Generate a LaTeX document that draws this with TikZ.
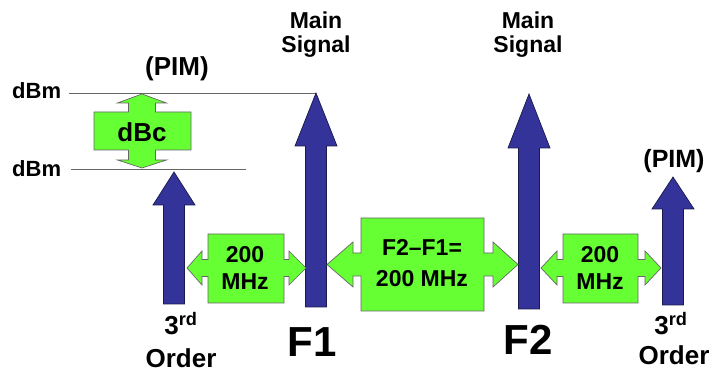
\documentclass[tikz,border=0pt]{standalone}
\usepackage{fontspec}
\setmainfont{Liberation Sans}
\definecolor{sigblue}{RGB}{51,51,153}
\definecolor{callgreen}{RGB}{102,255,51}
\tikzset{
  sig/.style={fill=sigblue, draw=sigblue!50!black, line width=0.7pt, line join=miter},
  call/.style={fill=callgreen, draw=black!60, line width=0.7pt, line join=miter},
  lvl/.style={draw=black!60, line width=0.9pt},
  lbl/.style={inner sep=0pt, anchor=base, font=\bfseries},
}
\newcommand\sigarrow[4]{%
  \draw[sig] (#1-10.5,#4) -- (#1-10.5,#3) -- (#1-21,#3) -- (#1,#2) -- (#1+21,#3)
    -- (#1+10.5,#3) -- (#1+10.5,#4) -- cycle;}
\begin{document}
\begin{tikzpicture}[x=1pt,y=-1pt]
\useasboundingbox (0,0) rectangle (713,374);
% level lines
\coordinate (ltopL) at (69,93);
\coordinate (f1tip) at (316,93);
\coordinate (llowL) at (71,169);
\coordinate (llowR) at (246,169);
\draw[lvl] (ltopL) -- (f1tip);
\draw[lvl] (llowL) -- (llowR);
% blue signal arrows
\sigarrow{174}{172}{205}{304}
\sigarrow{316}{93}{146}{307}
\sigarrow{529}{94}{148}{309}
\sigarrow{673}{177}{209}{305}
% dBc vertical callout
\draw[call] (94,112) -- (128.5,112) -- (128.5,103) -- (117.5,103) -- (142,94) -- (166.5,103)
  -- (155.5,103) -- (155.5,112) -- (191,112) -- (191,150) -- (155.5,150) -- (155.5,160)
  -- (166.5,160) -- (142,168) -- (117.5,160) -- (128.5,160) -- (128.5,150) -- (94,150) -- cycle;
% left 200 MHz callout
\draw[call] (208,234) -- (284,234) -- (284,259.5) -- (289,259.5) -- (289,251) -- (306,268)
  -- (289,285) -- (289,276.5) -- (284,276.5) -- (284,303) -- (208,303) -- (208,276.5)
  -- (202,276.5) -- (202,285) -- (187,268) -- (202,251) -- (202,259.5) -- (208,259.5) -- cycle;
% middle callout
\draw[call] (361,218) -- (484,218) -- (484,253) -- (493,253) -- (493,242) -- (518,264.5)
  -- (493,287) -- (493,276) -- (484,276) -- (484,311) -- (361,311) -- (361,276)
  -- (353,276) -- (353,287) -- (327,264.5) -- (353,242) -- (353,253) -- (361,253) -- cycle;
% right 200 MHz callout
\draw[call] (563,234) -- (638,234) -- (638,259.5) -- (645,259.5) -- (645,251) -- (661,268)
  -- (645,285) -- (645,276.5) -- (638,276.5) -- (638,303) -- (563,303) -- (563,276.5)
  -- (557,276.5) -- (557,285) -- (541,268) -- (557,251) -- (557,259.5) -- (563,259.5) -- cycle;
% texts
\node[lbl, anchor=base west, font=\bfseries\fontsize{22}{22}\selectfont] (dbmt) at (12,99) {dBm};
\node[lbl, anchor=base west, font=\bfseries\fontsize{22}{22}\selectfont] (dbml) at (12,177) {dBm};
\node[lbl, font=\bfseries\fontsize{26}{26}\selectfont] (piml) at (177,76) {(PIM)};
\node[lbl, font=\bfseries\fontsize{25}{25}\selectfont] (pimr) at (674,168) {(PIM)};
\node[lbl, font=\bfseries\fontsize{23}{23}\selectfont] (ms1a) at (316,29) {Main};
\node[lbl, font=\bfseries\fontsize{23}{23}\selectfont] (ms1b) at (316,53) {Signal};
\node[lbl, font=\bfseries\fontsize{23}{23}\selectfont] (ms2a) at (528,29) {Main};
\node[lbl, font=\bfseries\fontsize{23}{23}\selectfont] (ms2b) at (528,53) {Signal};
\node[lbl, font=\bfseries\fontsize{26}{26}\selectfont] (dbc) at (142,142) {dBc};
\node[lbl, font=\bfseries\fontsize{23}{23}\selectfont] (la) at (245,263) {200};
\node[lbl, font=\bfseries\fontsize{23}{23}\selectfont] (lb) at (245,290) {MHz};
\node[lbl, font=\bfseries\fontsize{23}{23}\selectfont] (ma) at (422,256) {F2–F1=};
\node[lbl, font=\bfseries\fontsize{23}{23}\selectfont] (mb) at (422,287) {200 MHz};
\node[lbl, font=\bfseries\fontsize{23}{23}\selectfont] (ra) at (600,263) {200};
\node[lbl, font=\bfseries\fontsize{23}{23}\selectfont] (rb) at (600,290) {MHz};
\node[lbl, font=\bfseries\fontsize{26}{26}\selectfont] (o3l) at (181,335) {3\textsuperscript{rd}};
\node[lbl, font=\bfseries\fontsize{26}{26}\selectfont] (ordl) at (181,367) {Order};
\node[lbl, font=\bfseries\fontsize{26}{26}\selectfont] (o3r) at (671,335) {3\textsuperscript{rd}};
\node[lbl, font=\bfseries\fontsize{26}{26}\selectfont] (ordr) at (674,365) {Order};
\node[lbl, font=\bfseries\fontsize{42}{42}\selectfont] (f1) at (312,357) {F1};
\node[lbl, font=\bfseries\fontsize{42}{42}\selectfont] (f2) at (528,355) {F2};
\end{tikzpicture}
\end{document}
